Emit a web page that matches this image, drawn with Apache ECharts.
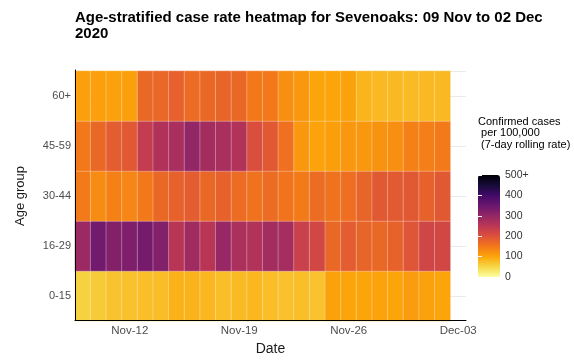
<!DOCTYPE html>
<html>
<head>
<meta charset="utf-8">
<script src="https://cdn.jsdelivr.net/npm/echarts@6/dist/echarts.min.js"></script>
<style>
  html, body { margin: 0; padding: 0; background: #fff; }
  #chart { width: 574px; height: 361px; }
</style>
</head>
<body>
<div id="chart"></div>
<script>
// dates on the axis (Dec-03 only carries a tick, no cells)
var dates = ['Nov-09','Nov-10','Nov-11','Nov-12','Nov-13','Nov-14','Nov-15','Nov-16',
    'Nov-17','Nov-18','Nov-19','Nov-20','Nov-21','Nov-22','Nov-23','Nov-24','Nov-25',
    'Nov-26','Nov-27','Nov-28','Nov-29','Nov-30','Dec-01','Dec-02','Dec-03']
var ageGroups = ['0-15','16-29','30-44','45-59','60+']
// 7-day rolling rate per 100,000, one value per day (09 Nov .. 02 Dec)
var rate0to15 = [55,62,70,72,75,76,88,86,82,75,78,82,75,72,75,70,105,100,100,102,100,110,105,100]
var rate16to29 = [290,340,320,325,335,320,255,285,255,295,270,262,280,278,230,220,170,185,175,170,178,195,222,220]
var rate30to44 = [148,128,140,135,150,170,178,185,170,178,165,158,165,155,148,165,158,162,175,190,188,190,178,190]
var rate45to59 = [150,170,185,190,240,265,275,300,280,275,262,205,190,160,115,102,108,115,115,120,124,140,143,148]
var rate60plus = [106,106,104,106,170,172,180,165,170,175,170,150,150,125,115,100,100,105,85,80,80,78,80,80]

var rows = [rate0to15, rate16to29, rate30to44, rate45to59, rate60plus]
var data = []
for (var r = 0; r < rows.length; r++) {
    for (var c = 0; c < rows[r].length; c++) {
        data.push([c, r, rows[r][c]])
    }
}

// inferno, reversed (light = low)
var inferno = ['#fcffa4','#f6d746','#fca50a','#f37819','#dd513a','#bc3754',
    '#932667','#6a176e','#420a68','#160b39','#000004']

var font = 'Liberation Sans, Arial, sans-serif'
var showDateLabel = function (index) {
    return index >= 3 && (index - 3) % 7 === 0
}

var myChart = echarts.init(document.getElementById('chart'))
var option = {
    backgroundColor: '#fff',
    textStyle: { fontFamily: font },
    animation: false,
    title: {
        text: 'Age-stratified case rate heatmap for Sevenoaks: 09 Nov to 02 Dec\n2020',
        left: 75,
        top: 10,
        padding: 0,
        textStyle: { fontSize: 15, fontWeight: 'bold', color: '#000', lineHeight: 16, fontFamily: font }
    },
    graphic: [{
        type: 'text',
        left: 478,
        top: 116,
        style: {
            text: 'Confirmed cases\n per 100,000\n (7-day rolling rate)',
            font: '11px ' + font,
            fill: '#000',
            lineHeight: 11.5
        }
    }],
    grid: [
        { left: 75, right: 108, top: 71, bottom: 40 },   // cells
        { left: 75, right: 108, top: 70, bottom: 36 },   // axis frame
        { left: 478, width: 22, top: 175, height: 102 }  // colour bar labels
    ],
    xAxis: [
        { type: 'category', gridIndex: 0, data: dates, show: false },
        {
            type: 'category',
            gridIndex: 1,
            data: dates,
            z: 5,
            splitLine: { show: false },
            axisLine: { lineStyle: { color: '#000', width: 1 } },
            axisTick: {
                interval: function (index) { return showDateLabel(index) },
                alignWithLabel: true,
                length: 3.5,
                lineStyle: { color: '#333' }
            },
            axisLabel: {
                interval: function (index) { return showDateLabel(index) },
                fontSize: 11.5,
                color: '#4d4d4d',
                margin: 5
            },
            name: 'Date',
            nameLocation: 'middle',
            nameGap: 21,
            nameTextStyle: { fontSize: 14, color: '#1a1a1a' }
        },
        { type: 'value', gridIndex: 2, show: false, min: 0, max: 1 }
    ],
    yAxis: [
        {
            type: 'category',
            gridIndex: 0,
            data: ageGroups,
            splitLine: { show: false },
            axisLine: { show: false },
            axisTick: { length: 3.5, lineStyle: { color: '#333' } },
            axisLabel: { fontSize: 11, color: '#4d4d4d', margin: 4 },
            name: 'Age group',
            nameLocation: 'middle',
            nameGap: 48,
            nameRotate: 90,
            nameTextStyle: { fontSize: 13, color: '#1a1a1a' }
        },
        {
            // faint grid lines through the middle of each row
            type: 'category',
            gridIndex: 0,
            data: ['a','b','c','d','e','f','g','h','i','j'],
            axisLine: { show: false },
            axisTick: { show: false },
            axisLabel: { show: false },
            splitLine: {
                show: true,
                interval: function (index) { return index % 2 === 1 },
                lineStyle: { color: '#ebebeb', width: 1 }
            }
        },
        {
            type: 'value',
            gridIndex: 1,
            min: 0, max: 1,
            z: 5,
            axisLine: { show: true, lineStyle: { color: '#000', width: 1 } },
            axisTick: { show: false },
            axisLabel: { show: false },
            splitLine: { show: false }
        },
        {
            type: 'value',
            gridIndex: 2,
            position: 'right',
            min: 0, max: 500, interval: 100,
            z: 5,
            axisLine: { show: false },
            axisTick: { show: true, inside: true, length: 4, lineStyle: { color: '#fff', width: 1 } },
            axisLabel: {
                fontSize: 10.5,
                color: '#333',
                margin: 5,
                formatter: function (v) { return v === 500 ? '500+' : String(v) }
            },
            splitLine: { show: false }
        },
        {
            type: 'value',
            gridIndex: 2,
            position: 'left',
            min: 0, max: 500, interval: 100,
            z: 5,
            axisLine: { show: false },
            axisTick: { show: true, inside: true, length: 4, lineStyle: { color: '#fff', width: 1 } },
            axisLabel: { show: false },
            splitLine: { show: false }
        }
    ],
    visualMap: {
        type: 'continuous',
        min: 0,
        max: 500,
        seriesIndex: 0,
        calculable: false,
        orient: 'vertical',
        left: 478,
        top: 175,
        padding: 0,
        itemWidth: 22,
        itemHeight: 102,
        text: null,
        inRange: { color: inferno },
        z: 1
    },
    series: [{
        type: 'heatmap',
        xAxisIndex: 0,
        yAxisIndex: 0,
        data: data,
        itemStyle: { borderColor: 'rgba(255,255,255,0.3)', borderWidth: 1 },
        emphasis: { disabled: true }
    }]
}
myChart.setOption(option)
</script>
</body>
</html>
